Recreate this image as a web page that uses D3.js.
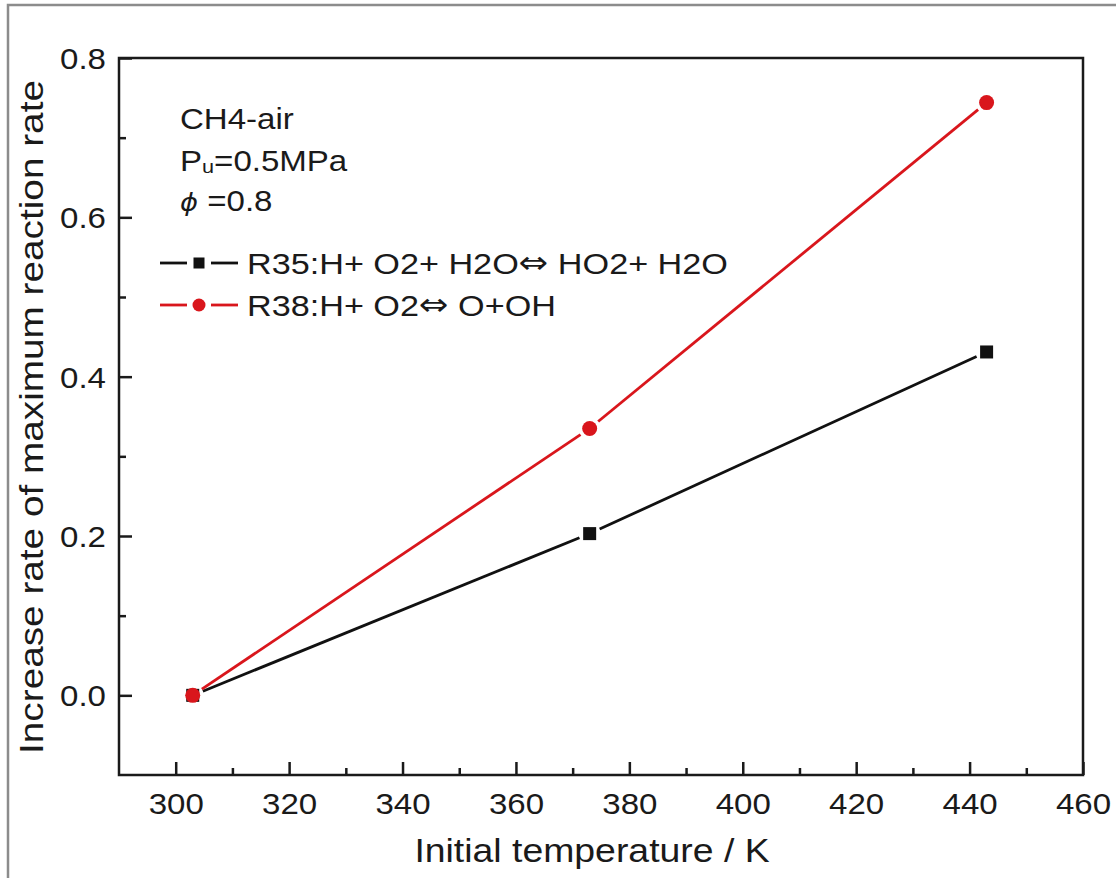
<!DOCTYPE html>
<html>
<head>
<meta charset="utf-8">
<script src="https://cdn.jsdelivr.net/npm/d3@7"></script>
<style>
  html, body { margin: 0; padding: 0; background: #fff; }
  svg { display: block; }
  text { font-family: "Liberation Sans", Arial, "DejaVu Sans", sans-serif; fill: #1a1a1a; }
</style>
</head>
<body>
<script>
// ---- data ----
const temperatures = [303, 373, 443];
const r35Values = [0.0, 0.203, 0.431];
const r38Values = [0.0, 0.335, 0.744];
const seriesParts = [["R35:H+ O2+ H2O", " HO2+ H2O"], ["R38:H+ O2", " O+OH"]];
const xTickValues = [300, 320, 340, 360, 380, 400, 420, 440, 460];
const xMinorTicks = [310, 330, 350, 370, 390, 410, 430, 450];
const yTickValues = [0.0, 0.2, 0.4, 0.6, 0.8];
const yMinorTicks = [0.1, 0.3, 0.5, 0.7];
const xTitle = "Initial temperature / K";
const yTitle = "Increase rate of maximum reaction rate";

const W = 1116, H = 878;
const SX = 1.14; // horizontal stretch of the original text
const plot = { left: 119, right: 1083, top: 58, bottom: 775 };
const RED = "#d9161c", BLACK = "#111";

const svg = d3.select("body").append("svg").attr("width", W).attr("height", H);

// outer gray border
svg.append("rect").attr("x", 8).attr("y", 5).attr("width", W + 20).attr("height", H + 20)
  .attr("fill", "none").attr("stroke", "#8c8c8c").attr("stroke-width", 2.5);

const x = d3.scaleLinear().domain([290, 460]).range([plot.left, plot.right]);
const y = d3.scaleLinear().domain([-0.1, 0.8]).range([plot.bottom, plot.top]);

// axes
const gx = svg.append("g").attr("transform", `translate(0,${plot.bottom})`)
  .call(d3.axisBottom(x).tickValues(xTickValues).tickSizeInner(-13).tickSizeOuter(0).tickFormat(d3.format("d")));
const gxm = svg.append("g").attr("transform", `translate(0,${plot.bottom})`)
  .call(d3.axisBottom(x).tickValues(xMinorTicks).tickSizeInner(-7).tickSizeOuter(0).tickFormat(""));
const gy = svg.append("g").attr("transform", `translate(${plot.left},0)`)
  .call(d3.axisLeft(y).tickValues(yTickValues).tickSizeInner(-13).tickSizeOuter(0).tickFormat(d3.format(".1f")));
const gym = svg.append("g").attr("transform", `translate(${plot.left},0)`)
  .call(d3.axisLeft(y).tickValues(yMinorTicks).tickSizeInner(-7).tickSizeOuter(0).tickFormat(""));

[gx, gxm, gy, gym].forEach(g => {
  g.select(".domain").remove();
  g.selectAll(".tick line").attr("stroke", "#1a1a1a").attr("stroke-width", 2.5);
});
gxm.selectAll("text").remove();
gym.selectAll("text").remove();

gx.selectAll(".tick text")
  .attr("x", null).attr("y", null).attr("dy", null)
  .attr("transform", `translate(0,39) scale(${SX},1)`)
  .attr("text-anchor", "middle")
  .style("font-size", "29px").attr("fill", "#1a1a1a");
gy.selectAll(".tick text")
  .attr("x", null).attr("dy", "0.36em")
  .attr("transform", `translate(-13,0) scale(${SX},1)`)
  .attr("text-anchor", "end")
  .style("font-size", "29px").attr("fill", "#1a1a1a");

// frame
svg.append("rect")
  .attr("x", plot.left).attr("y", plot.top)
  .attr("width", plot.right - plot.left).attr("height", plot.bottom - plot.top)
  .attr("fill", "none").attr("stroke", "#1a1a1a").attr("stroke-width", 2.5);

// axis titles
svg.append("text")
  .attr("transform", `translate(592,862) scale(${SX},1)`)
  .attr("text-anchor", "middle").style("font-size", "32.8px").text(xTitle);
svg.append("text")
  .attr("transform", `translate(43,417) rotate(-90) scale(${SX},1)`)
  .attr("text-anchor", "middle").style("font-size", "34px").text(yTitle);

// series with gaps around markers
function drawSeries(vals, color, gapR) {
  const pts = temperatures.map((t, i) => [x(t), y(vals[i])]);
  const g = svg.append("g");
  for (let i = 0; i < pts.length - 1; i++) {
    const [x0, y0] = pts[i], [x1, y1] = pts[i + 1];
    const dx = x1 - x0, dy = y1 - y0, L = Math.hypot(dx, dy);
    const ux = dx / L, uy = dy / L;
    g.append("line")
      .attr("x1", x0 + ux * gapR).attr("y1", y0 + uy * gapR)
      .attr("x2", x1 - ux * gapR).attr("y2", y1 - uy * gapR)
      .attr("stroke", color).attr("stroke-width", 2.8);
  }
  return pts;
}
const p35 = drawSeries(r35Values, BLACK, 11);
const p38 = drawSeries(r38Values, RED, 11);

const sq = 13;
svg.append("g").selectAll("rect").data(p35).join("rect")
  .attr("x", d => d[0] - sq / 2).attr("y", d => d[1] - sq / 2)
  .attr("width", sq).attr("height", sq).attr("fill", BLACK);
svg.append("g").selectAll("circle").data(p38).join("circle")
  .attr("cx", d => d[0]).attr("cy", d => d[1]).attr("r", 7.5).attr("fill", RED);

// annotation
const ann = svg.append("g").style("font-size", "29px");
ann.append("text").attr("transform", `translate(180,129) scale(${SX},1)`).text("CH4-air");
const t2 = ann.append("text").attr("transform", `translate(180,171) scale(${SX},1)`);
t2.append("tspan").text("P");
t2.append("tspan").style("font-size", "19px").attr("dy", 2).text("u");
t2.append("tspan").attr("dy", -2).text("=0.5MPa");
const t3 = ann.append("text").attr("transform", `translate(180,211) scale(${SX},1)`);
t3.append("tspan").style("font-style", "italic").style("font-family", "'DejaVu Sans', sans-serif").style("font-size", "24px").text("\u03D5");
t3.append("tspan").text(" =0.8");

// legend
const legendRows = [
  { parts: seriesParts[0], color: BLACK, shape: "square", cy: 263 },
  { parts: seriesParts[1], color: RED, shape: "circle", cy: 305 }
];
const lg = svg.append("g");
legendRows.forEach(r => {
  lg.append("line").attr("x1", 160).attr("x2", 187).attr("y1", r.cy).attr("y2", r.cy)
    .attr("stroke", r.color).attr("stroke-width", 2.8);
  lg.append("line").attr("x1", 211).attr("x2", 238).attr("y1", r.cy).attr("y2", r.cy)
    .attr("stroke", r.color).attr("stroke-width", 2.8);
  if (r.shape === "square") {
    lg.append("rect").attr("x", 199 - 5.5).attr("y", r.cy - 5.5).attr("width", 11).attr("height", 11).attr("fill", r.color);
  } else {
    lg.append("circle").attr("cx", 199).attr("cy", r.cy).attr("r", 6.5).attr("fill", r.color);
  }
  const t = lg.append("text").attr("transform", `translate(247,${r.cy + 11}) scale(${SX},1)`)
    .style("font-size", "30px");
  t.append("tspan").text(r.parts[0]);
  t.append("tspan").style("font-family", "'DejaVu Sans', sans-serif").style("font-size", "31px")
    .attr("dy", -1).text("\u21D4");
  t.append("tspan").attr("dy", 1).text(r.parts[1]);
});
</script>
</body>
</html>
